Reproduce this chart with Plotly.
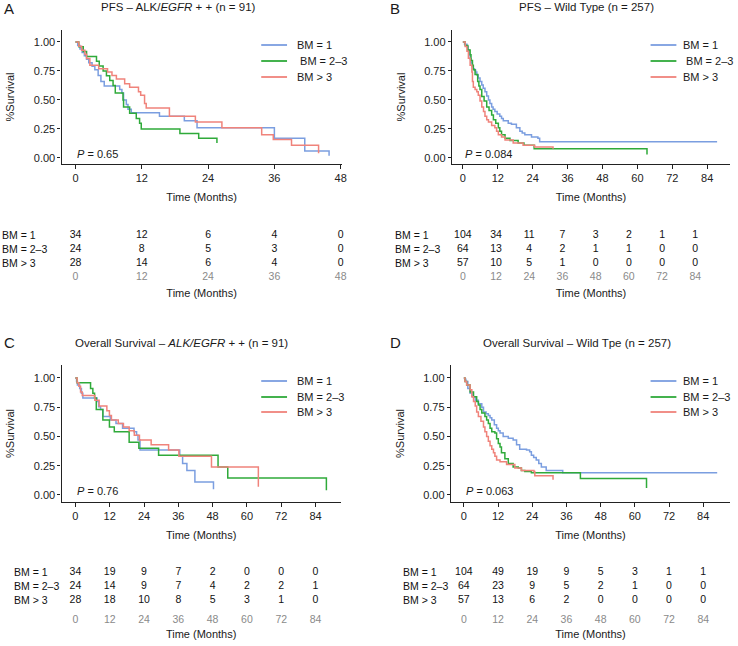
import plotly.graph_objects as go

W, H = 738, 646
BLUE = "#7B9EE0"
GREEN = "#2FAA3A"
RED = "#F0837B"
FONT = "Liberation Sans, Arial, sans-serif"

# ---------------- Kaplan-Meier step data (time in months, survival) ----------------
# Panel A: PFS - ALK/EGFR ++
A_BM1_T = [0, 0.4, 0.8, 1.2, 1.6, 2.0, 2.4, 3.0, 3.5, 4.1, 4.6, 5.2, 8.0, 8.4, 8.7, 9.2, 9.5, 10.1, 15.2, 19.7, 22.0, 36.0, 41.5, 45.9]
A_BM1_S = [1.0, 0.97, 0.94, 0.91, 0.88, 0.85, 0.82, 0.79, 0.76, 0.71, 0.66, 0.62, 0.59, 0.56, 0.50, 0.46, 0.42, 0.39, 0.36, 0.32, 0.26, 0.17, 0.06, 0.02]
A_BM23_T = [0, 0.6, 1.4, 2.0, 3.8, 4.3, 5.0, 5.6, 6.2, 6.8, 7.2, 8.6, 8.7, 9.8, 11.0, 11.6, 11.9, 18.9, 22.3, 25.6]
A_BM23_S = [1.0, 0.958, 0.917, 0.875, 0.833, 0.792, 0.75, 0.708, 0.667, 0.625, 0.56, 0.50, 0.44, 0.385, 0.34, 0.30, 0.25, 0.21, 0.17, 0.13]
A_BM3_T = [0, 0.6, 1.1, 1.7, 2.0, 2.6, 4.2, 5.8, 6.6, 7.4, 8.9, 9.8, 11.4, 11.8, 12.5, 12.8, 17.0, 21.7, 26.5, 33.7, 35.8, 39.1, 44.0]
A_BM3_S = [1.0, 0.964, 0.929, 0.893, 0.857, 0.80, 0.77, 0.74, 0.71, 0.68, 0.64, 0.61, 0.57, 0.54, 0.47, 0.43, 0.36, 0.31, 0.26, 0.20, 0.16, 0.11, 0.04]

# Panel B: PFS - Wild Type
B_BM1_T = [0, 0.6, 1.4, 1.8, 2.2, 2.5, 2.8, 3.2, 3.6, 4.0, 4.4, 4.8, 5.3, 5.9, 6.5, 7.0, 7.6, 8.2, 8.8, 9.3,
           9.9, 10.4, 11.0, 11.8, 12.7, 13.3, 13.9, 15.6, 16.7, 18.4, 19.6, 20.4, 21.3, 23.6, 25.8, 26.4, 87.4]
B_BM1_S = [1.0, 0.98, 0.96, 0.93, 0.89, 0.855, 0.82, 0.79, 0.77, 0.755, 0.74, 0.715, 0.69, 0.66, 0.63, 0.60, 0.57, 0.535, 0.50, 0.47,
           0.44, 0.42, 0.40, 0.38, 0.36, 0.34, 0.32, 0.30, 0.29, 0.26, 0.23, 0.215, 0.20, 0.18, 0.17, 0.14, 0.14]
B_BM23_T = [0, 0.8, 1.7, 2.5, 2.8, 3.3, 3.6, 4.2, 5.1, 5.5, 5.9, 6.5, 7.3, 8.2, 9.0, 9.9, 10.5, 11.3, 12.2, 12.7,
            13.3, 14.5, 16.2, 19.0, 21.0, 24.5, 63.3]
B_BM23_S = [1.0, 0.97, 0.93, 0.89, 0.84, 0.80, 0.76, 0.72, 0.66, 0.62, 0.59, 0.53, 0.49, 0.44, 0.41, 0.37, 0.33, 0.30, 0.26, 0.23,
            0.20, 0.17, 0.15, 0.13, 0.11, 0.08, 0.03]
B_BM3_T = [0, 0.8, 1.4, 1.9, 2.5, 3.1, 3.3, 3.6, 4.2, 4.8, 5.3, 5.9, 6.5, 7.1, 7.6, 8.2, 8.8, 9.9, 11.0, 11.6,
           12.2, 13.3, 14.5, 17.3, 20.7, 24.7, 31.0]
B_BM3_S = [1.0, 0.96, 0.92, 0.86, 0.80, 0.74, 0.66, 0.61, 0.59, 0.57, 0.54, 0.49, 0.44, 0.40, 0.36, 0.33, 0.31, 0.28, 0.26, 0.23,
           0.20, 0.18, 0.155, 0.13, 0.11, 0.095, 0.08]

# Panel C: Overall Survival - ALK/EGFR ++
C_BM1_T = [0, 0.4, 0.7, 1.5, 2.1, 2.6, 7.6, 8.1, 8.8, 9.6, 12.2, 14.2, 16.5, 20.5, 21.4, 21.9, 22.6, 36.5, 37.5, 39.0, 41.8, 48.3]
C_BM1_S = [1.0, 0.97, 0.94, 0.91, 0.87, 0.83, 0.80, 0.755, 0.73, 0.67, 0.64, 0.61, 0.57, 0.54, 0.51, 0.47, 0.385, 0.33, 0.27, 0.21, 0.11, 0.05]
C_BM23_T = [0, 0.6, 5.3, 6.1, 6.7, 7.3, 9.6, 11.9, 13.6, 18.8, 22.2, 29.1, 49.9, 53.3, 87.8]
C_BM23_S = [1.0, 0.96, 0.91, 0.87, 0.83, 0.73, 0.64, 0.58, 0.54, 0.45, 0.40, 0.34, 0.24, 0.145, 0.04]
C_BM3_T = [0, 0.6, 1.2, 1.8, 2.4, 6.8, 8.3, 11.0, 11.9, 12.6, 15.0, 16.8, 18.8, 20.6, 22.4, 26.5, 32.6, 36.2, 47.6, 64.0]
C_BM3_S = [1.0, 0.96, 0.93, 0.88, 0.85, 0.81, 0.76, 0.72, 0.68, 0.64, 0.61, 0.58, 0.55, 0.51, 0.47, 0.43, 0.385, 0.33, 0.24, 0.07]

# Panel D: Overall Survival - Wild Type
D_BM1_T = [0, 0.3, 0.7, 1.4, 2.2, 3.0, 4.0, 5.1, 6.3, 6.9, 7.8, 8.6, 9.2, 9.8, 10.7, 11.5, 12.1, 12.7, 13.8, 15.6,
           17.3, 18.5, 19.6, 22.0, 23.1, 23.7, 24.5, 25.4, 26.3, 27.2, 28.9, 34.7, 88.9]
D_BM1_S = [1.0, 0.99, 0.97, 0.91, 0.87, 0.84, 0.81, 0.78, 0.75, 0.71, 0.695, 0.68, 0.66, 0.64, 0.60, 0.57, 0.55, 0.53, 0.50, 0.485,
           0.47, 0.43, 0.39, 0.385, 0.37, 0.34, 0.32, 0.30, 0.27, 0.24, 0.21, 0.19, 0.19]
D_BM23_T = [0, 0.4, 1.0, 2.2, 3.4, 4.5, 5.1, 5.7, 6.3, 7.4, 8.0, 8.6, 9.2, 9.8, 10.9, 11.5, 12.1, 12.7, 13.2, 14.4,
            15.6, 17.3, 19.1, 20.2, 21.4, 23.7, 40.9, 64.1]
D_BM23_S = [1.0, 0.97, 0.94, 0.88, 0.84, 0.80, 0.77, 0.73, 0.70, 0.67, 0.64, 0.61, 0.57, 0.54, 0.53, 0.48, 0.44, 0.41, 0.36, 0.31,
            0.27, 0.24, 0.23, 0.21, 0.20, 0.19, 0.14, 0.06]
D_BM3_T = [0, 0.4, 1.0, 2.2, 2.8, 3.4, 4.0, 4.5, 5.1, 6.0, 6.9, 7.4, 8.0, 8.6, 9.2, 9.8, 10.4, 10.9, 11.5, 12.7,
           15.0, 17.9, 20.2, 24.6, 24.9, 31.3]
D_BM3_S = [1.0, 0.97, 0.94, 0.90, 0.84, 0.80, 0.76, 0.71, 0.67, 0.63, 0.58, 0.54, 0.50, 0.46, 0.42, 0.39, 0.36, 0.33, 0.30, 0.285,
           0.26, 0.23, 0.21, 0.20, 0.165, 0.13]

# ---------------- Numbers at risk ----------------
RISK_TIMES_A = [0, 12, 24, 36, 48]
RISK_TIMES_84 = [0, 12, 24, 36, 48, 60, 72, 84]
A_RISK_BM1 = [34, 12, 6, 4, 0]
A_RISK_BM23 = [24, 8, 5, 3, 0]
A_RISK_BM3 = [28, 14, 6, 4, 0]
B_RISK_BM1 = [104, 34, 11, 7, 3, 2, 1, 1]
B_RISK_BM23 = [64, 13, 4, 2, 1, 1, 0, 0]
B_RISK_BM3 = [57, 10, 5, 1, 0, 0, 0, 0]
C_RISK_BM1 = [34, 19, 9, 7, 2, 0, 0, 0]
C_RISK_BM23 = [24, 14, 9, 7, 4, 2, 2, 1]
C_RISK_BM3 = [28, 18, 10, 8, 5, 3, 1, 0]
D_RISK_BM1 = [104, 49, 19, 9, 5, 3, 1, 1]
D_RISK_BM23 = [64, 23, 9, 5, 2, 1, 0, 0]
D_RISK_BM3 = [57, 13, 6, 2, 0, 0, 0, 0]

GROUPS = ["BM = 1", "BM = 2\u20133", "BM > 3"]
COLORS = [BLUE, GREEN, RED]
Y_TICKS = [0, 0.25, 0.5, 0.75, 1.0]
Y_TICKTEXT = ["0.00", "0.25", "0.50", "0.75", "1.00"]

TITLES = [
    "PFS \u2013 ALK/<i>EGFR</i> + + (n = 91)",
    "PFS \u2013 Wild Type (n = 257)",
    "Overall Survival \u2013 <i>ALK/EGFR</i> + + (n = 91)",
    "Overall Survival \u2013 Wild Tpe (n = 257)",
]
LETTERS = ["A", "B", "C", "D"]
PVALS = ["0.65", "0.084", "0.76", "0.063"]


def px(x):
    return x / W


def py(y):
    return 1 - y / H


panels = [
    dict(curves=[(A_BM1_T, A_BM1_S), (A_BM23_T, A_BM23_S), (A_BM3_T, A_BM3_S)],
         risk=[A_RISK_BM1, A_RISK_BM23, A_RISK_BM3], rt=RISK_TIMES_A,
         xdom=(62, 344), xr=[-2.52, 48.18], ydom=(30, 164), yr=[-0.052, 1.103], xt=RISK_TIMES_A,
         tdom=(62, 344), tr=[-2.52, 48.18], trow=(228, 266), tlen=0, tstand=8,
         title=(180, 7), letter=(2, 8), leg=(263, 297, [45, 61, 77]), lab_x=0, lead=True),
    dict(curves=[(B_BM1_T, B_BM1_S), (B_BM23_T, B_BM23_S), (B_BM3_T, B_BM3_S)],
         risk=[B_RISK_BM1, B_RISK_BM23, B_RISK_BM3], rt=RISK_TIMES_84,
         xdom=(455, 735), xr=[-3.76, 91.84], ydom=(30, 164), yr=[-0.052, 1.103], xt=RISK_TIMES_84,
         tdom=(455, 735), tr=[-3.95, 96.55], trow=(228, 266), tlen=0, tstand=8,
         title=(590, 7), letter=(391, 8), leg=(655, 686, [45, 61, 77]), lab_x=396, lead=True),
    dict(curves=[(C_BM1_T, C_BM1_S), (C_BM23_T, C_BM23_S), (C_BM3_T, C_BM3_S)],
         risk=[C_RISK_BM1, C_RISK_BM23, C_RISK_BM3], rt=RISK_TIMES_84,
         xdom=(62, 343), xr=[-4.84, 92.8], ydom=(365, 502), yr=[-0.06, 1.111], xt=RISK_TIMES_84,
         tdom=(62, 343), tr=[-4.84, 92.8], trow=(565, 603), tlen=6, tstand=6,
         title=(183, 343), letter=(2, 342), leg=(263, 297, [381, 397, 412]), lab_x=12, lead=False),
    dict(curves=[(D_BM1_T, D_BM1_S), (D_BM23_T, D_BM23_S), (D_BM3_T, D_BM3_S)],
         risk=[D_RISK_BM1, D_RISK_BM23, D_RISK_BM3], rt=RISK_TIMES_84,
         xdom=(454, 735), xr=[-4.53, 93.4], ydom=(365, 502), yr=[-0.06, 1.111], xt=RISK_TIMES_84,
         tdom=(454, 735), tr=[-4.53, 93.4], trow=(565, 603), tlen=6, tstand=6,
         title=(581, 343), letter=(391, 342), leg=(655, 686, [381, 397, 412]), lab_x=404, lead=False),
]

fig = go.Figure()
layout = dict(
    width=W, height=H, margin=dict(l=0, r=0, t=0, b=0),
    paper_bgcolor="white", plot_bgcolor="white", showlegend=False,
    font=dict(family=FONT, size=11, color="#1a1a1a"),
)
annotations = []
shapes = []

for i, p in enumerate(panels):
    k = i + 1
    kt = i + 5
    xa = "x" if k == 1 else f"x{k}"
    ya = "y" if k == 1 else f"y{k}"
    xta, yta = f"x{kt}", f"y{kt}"

    for (t, s), c, name in zip(p["curves"], COLORS, GROUPS):
        assert len(t) == len(s)
        fig.add_trace(go.Scatter(x=t, y=s, mode="lines", name=name,
                                 line=dict(shape="hv", color=c, width=1.5),
                                 xaxis=xa, yaxis=ya, hoverinfo="skip"))

    for r, (vals, name) in enumerate(zip(p["risk"], GROUPS)):
        row = 2 - r
        fig.add_trace(go.Scatter(x=p["rt"], y=[row] * len(vals), text=[str(v) for v in vals],
                                 mode="text", textposition="middle center",
                                 textfont=dict(family=FONT, size=10.5, color="#111"),
                                 xaxis=xta, yaxis=yta, hoverinfo="skip", cliponaxis=False))
        ry = p["trow"][0] + 7 + 14 * r
        annotations.append(dict(text=name, x=px(p["lab_x"]), y=py(ry), xref="paper", yref="paper",
                                xanchor="left", yanchor="middle", showarrow=False,
                                font=dict(family=FONT, size=10.5, color="#111")))

    layout["xaxis" if k == 1 else f"xaxis{k}"] = dict(
        domain=[px(p["xdom"][0]), px(p["xdom"][1])], range=p["xr"], anchor=ya,
        tickvals=p["xt"], ticks="outside", ticklen=4, tickwidth=1, tickcolor="#222",
        showline=True, linecolor="#222", linewidth=1.3, showgrid=False, zeroline=False,
        tickfont=dict(size=11, color="#222"),
        title=dict(text="Time (Months)", standoff=9, font=dict(size=11)),
    )
    layout["yaxis" if k == 1 else f"yaxis{k}"] = dict(
        domain=[py(p["ydom"][1]), py(p["ydom"][0])], range=p["yr"], anchor=xa,
        tickvals=Y_TICKS, ticktext=Y_TICKTEXT, ticks="outside", ticklen=3, tickwidth=1, tickcolor="#222",
        showline=True, linecolor="#222", linewidth=1.3, showgrid=False, zeroline=False,
        tickfont=dict(size=11, color="#222"),
        title=dict(text="%Survival", standoff=16, font=dict(size=11)),
    )
    layout[f"xaxis{kt}"] = dict(
        domain=[px(p["tdom"][0]), px(p["tdom"][1])], range=p["tr"], anchor=yta,
        tickvals=p["rt"], ticks="outside", ticklen=p["tlen"], tickcolor="rgba(0,0,0,0)",
        showline=False, showgrid=False, zeroline=False,
        tickfont=dict(size=10.5, color="#8a8a8a"),
        title=dict(text="Time (Months)", standoff=p["tstand"], font=dict(size=11)),
    )
    layout[f"yaxis{kt}"] = dict(
        domain=[py(p["trow"][1]), py(p["trow"][0])], range=[-0.2, 2.5], anchor=xta, visible=False,
    )

    # title & letter
    annotations.append(dict(text=TITLES[i], x=px(p["title"][0]), y=py(p["title"][1]), xref="paper", yref="paper",
                            xanchor="center", yanchor="middle", showarrow=False, font=dict(size=11.5)))
    annotations.append(dict(text=LETTERS[i], x=px(p["letter"][0]), y=py(p["letter"][1]), xref="paper", yref="paper",
                            xanchor="left", yanchor="middle", showarrow=False, font=dict(size=15)))
    # p-value
    annotations.append(dict(text=f"<i>P</i> = {PVALS[i]}", x=0, y=0.03, xref=xa, yref=ya,
                            xanchor="left", yanchor="middle", showarrow=False, font=dict(size=11)))
    # legend
    lx0, tx, rows = p["leg"]
    for j, (name, c) in enumerate(zip(GROUPS, COLORS)):
        shapes.append(dict(type="line", xref="paper", yref="paper", x0=px(lx0), x1=px(lx0 + 26),
                           y0=py(rows[j]), y1=py(rows[j]), line=dict(color=c, width=1.8)))
        label = ("\u00a0" + name) if (p["lead"] and j == 1) else name
        annotations.append(dict(text=label, x=px(tx), y=py(rows[j]), xref="paper", yref="paper",
                                xanchor="left", yanchor="middle", showarrow=False, font=dict(size=11)))

layout["annotations"] = annotations
layout["shapes"] = shapes
fig.update_layout(**layout)
fig.write_html("out.html", config={"displayModeBar": False},
               post_script="document.body.style.margin='0px';document.body.style.overflow='hidden';")
